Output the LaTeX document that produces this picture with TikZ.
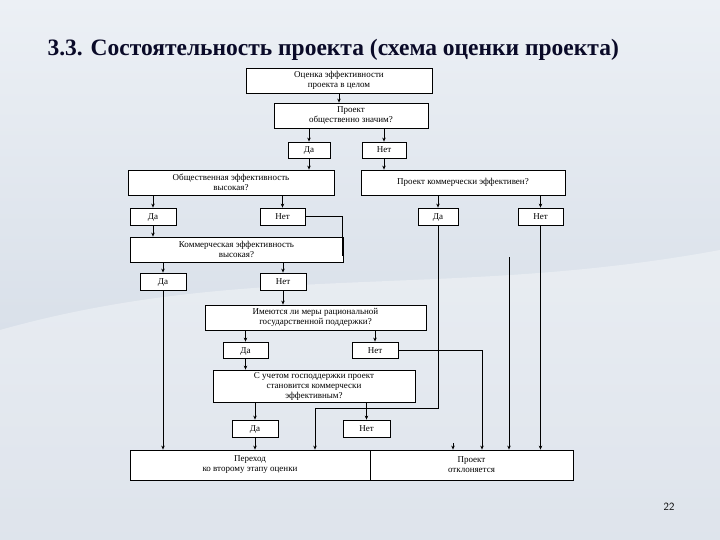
\documentclass[tikz,border=0pt]{standalone}
\usepackage{fontspec}
\setmainfont{Liberation Serif}
\usetikzlibrary{arrows.meta}
\definecolor{bgA}{RGB}{236,240,245}
\definecolor{bgB}{RGB}{205,214,226}
\definecolor{titlec}{RGB}{10,10,40}
\begin{document}
\begin{tikzpicture}[x=1pt,y=-1pt,
  box/.style={draw,fill=white,line width=0.8pt,inner sep=1pt,align=center,font=\fontsize{9}{10}\selectfont},
  yn/.style={draw,fill=white,line width=0.8pt,inner sep=1pt,font=\fontsize{9}{10}\selectfont,text height=6pt,text depth=0pt},
  arr/.style={line width=0.7pt,-{Stealth[length=4pt,width=3.5pt]}},
  ln/.style={line width=0.7pt}]
\useasboundingbox (0,0) rectangle (720,540);
\shade[top color=bgA,bottom color=bgB] (0,0) rectangle (720,540);
\fill[white,opacity=0.35] (0,330) .. controls (250,260) and (450,300) .. (720,250) -- (720,540) -- (0,540) -- cycle;
\node[anchor=west,font=\bfseries\fontsize{23.5}{26}\selectfont,text=titlec] (title) at (44,50) {3.3. Состоятельность проекта (схема оценки проекта)};
\node[font=\sffamily\fontsize{11}{12}\selectfont] (pg) at (669,507) {22};

\node[box,minimum width=186pt,minimum height=25pt] (b1) at (339,80.5) {Оценка эффективности\\проекта в целом};
\node[box,minimum width=154pt,minimum height=25pt] (b2) at (351,115.5) {Проект\\общественно значим?};
\node[yn,minimum width=42pt,minimum height=16pt] (d1) at (309,150) {Да};
\node[yn,minimum width=44pt,minimum height=16pt] (n1) at (384,150) {Нет};
\node[box,minimum width=206pt,minimum height=25pt] (b3) at (231,182.5) {Общественная эффективность\\высокая?};
\node[box,minimum width=204pt,minimum height=25pt] (b4) at (463,182.5) {Проект коммерчески эффективен?};
\node[yn,minimum width=46pt,minimum height=17pt] (d2) at (153,216.5) {Да};
\node[yn,minimum width=45pt,minimum height=17pt] (n2) at (282.5,216.5) {Нет};
\node[yn,minimum width=40pt,minimum height=17pt] (d3) at (438,216.5) {Да};
\node[yn,minimum width=45pt,minimum height=17pt] (n3) at (540.5,216.5) {Нет};
\node[box,minimum width=213pt,minimum height=25pt] (b5) at (236.5,249.5) {Коммерческая эффективность\\высокая?};
\node[yn,minimum width=46pt,minimum height=17pt] (d4) at (163,281.5) {Да};
\node[yn,minimum width=46pt,minimum height=17pt] (n4) at (283,281.5) {Нет};
\node[box,minimum width=221pt,minimum height=25pt] (b6) at (315.5,317.5) {Имеются ли меры рациональной\\государственной поддержки?};
\node[yn,minimum width=45pt,minimum height=16pt] (d5) at (245.5,350) {Да};
\node[yn,minimum width=46pt,minimum height=16pt] (n5) at (375,350) {Нет};
\node[box,minimum width=202pt,minimum height=32pt] (b7) at (314,386) {С учетом господдержки проект\\становится коммерчески\\эффективным?};
\node[yn,minimum width=46pt,minimum height=17pt] (d6) at (255,428.5) {Да};
\node[yn,minimum width=47pt,minimum height=17pt] (n6) at (366.5,428.5) {Нет};
\node[box,minimum width=240pt,minimum height=30pt] (f1) at (250,465) {Переход\\ко второму этапу оценки};
\node[box,minimum width=203pt,minimum height=30pt] (f2) at (471.5,465) {Проект\\отклоняется};

\coordinate (c1) at (342,256);
\coordinate (c2) at (315,408);
\coordinate (c3) at (509,257);
\coordinate (c4) at (453,443);

\draw[arr] (b1.south) -- (b1.south |- b2.north);
\draw[arr] (d1.north |- b2.south) -- (d1.north);
\draw[arr] (n1.north |- b2.south) -- (n1.north);
\draw[arr] (d1.south) -- (d1.south |- b3.north);
\draw[arr] (n1.south) -- (n1.south |- b4.north);
\draw[arr] (d2.north |- b3.south) -- (d2.north);
\draw[arr] (n2.north |- b3.south) -- (n2.north);
\draw[arr] (d3.north |- b4.south) -- (d3.north);
\draw[arr] (n3.north |- b4.south) -- (n3.north);
\draw[arr] (d2.south) -- (d2.south |- b5.north);
\draw[ln] (n2.east) -| (c1);
\draw[arr] (d4.north |- b5.south) -- (d4.north);
\draw[arr] (n4.north |- b5.south) -- (n4.north);
\draw[arr] (d4.south) -- (d4.south |- f1.north);
\draw[arr] (n4.south) -- (n4.south |- b6.north);
\draw[arr] (d5.north |- b6.south) -- (d5.north);
\draw[arr] (n5.north |- b6.south) -- (n5.north);
\draw[arr] (n5.east) -| ([xshift=10.5pt]f2.north);
\draw[arr] (d5.south) -- (d5.south |- b7.north);
\draw[arr] (d6.north |- b7.south) -- (d6.north);
\draw[arr] (n6.north |- b7.south) -- (n6.north);
\draw[arr] (d6.south) -- (d6.south |- f1.north);
\draw[ln] (d3.south) |- (c2);
\draw[arr] (c2) -- (c2 |- f1.north);
\draw[arr] (n3.south) -- (n3.south |- f2.north);
\draw[arr] (c3) -- (c3 |- f2.north);
\draw[arr] (c4) -- (c4 |- f2.north);
\end{tikzpicture}
\end{document}
